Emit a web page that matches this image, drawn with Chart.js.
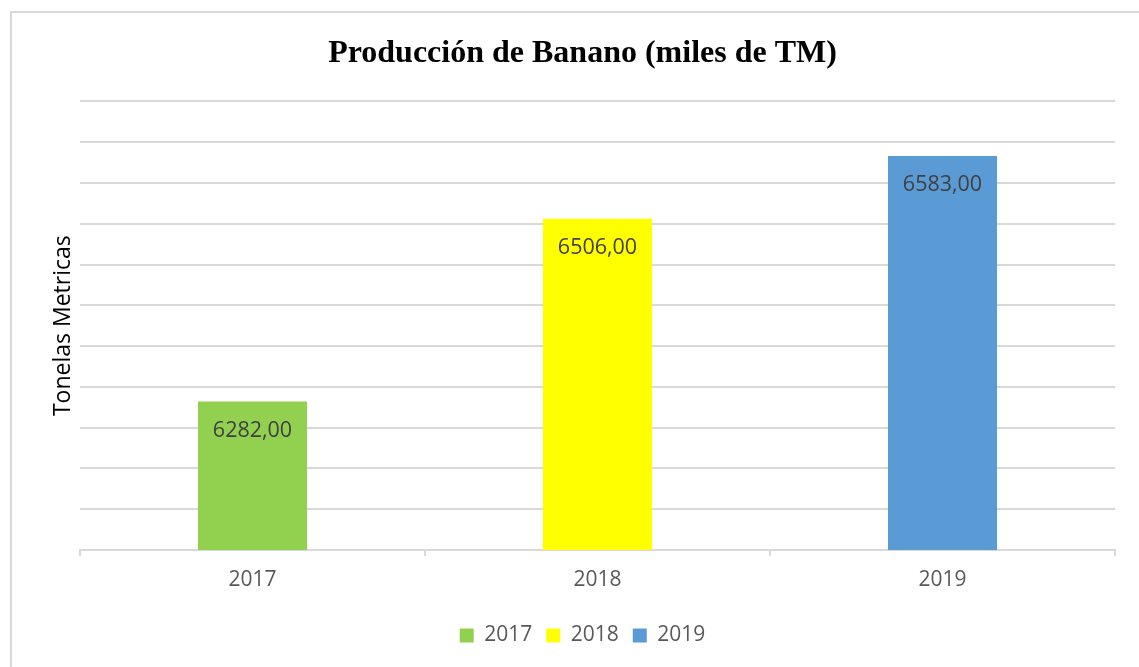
<!DOCTYPE html>
<html>
<head>
<meta charset="utf-8">
<script src="https://cdn.jsdelivr.net/npm/chart.js@4/dist/chart.umd.min.js"></script>
<style>
    body { margin: 0; background: #fff; }
    #marco { position: absolute; left: 10px; top: 11px; width: 1200px; height: 700px; border-left: 2px solid #d9d9d9; border-top: 2px solid #d9d9d9; }
    #contenedor { position: absolute; left: 0; top: 0; width: 1139px; height: 667px; }
</style>
</head>
<body>
<div id="marco"></div>
<div id="contenedor"><canvas id="bananoChart"></canvas></div>
<script>
const anos = ['2017', '2018', '2019'];
const produccion = [6282, 6506, 6583];
const coloresAnos = ['#92d050', '#ffff00', '#5b9bd5'];
const ejeMin = 6100;
const ejeMax = 6650;
const ejePaso = 50;

function formatoValor(v) {
    return v.toFixed(2).replace('.', ',');
}

// etiquetas de datos dentro de la barra, arriba
const etiquetasDatos = {
    id: 'etiquetasDatos',
    afterDatasetsDraw(chart) {
        const ctx = chart.ctx;
        const meta = chart.getDatasetMeta(0);
        ctx.save();
        ctx.font = '21.5px "Open Sans"';
        ctx.fillStyle = '#404040';
        ctx.textAlign = 'center';
        ctx.textBaseline = 'middle';
        meta.data.forEach((barra, i) => {
            ctx.fillText(formatoValor(produccion[i]), barra.x, barra.y + 29);
        });
        ctx.restore();
    }
};

const ctx = document.getElementById('bananoChart').getContext('2d');
let bananoChart = new Chart(ctx, {
    type: 'bar',
    data: {
        labels: anos,
        datasets: [{
            label: 'Producción',
            data: produccion,
            backgroundColor: coloresAnos,
            borderWidth: 0,
            categoryPercentage: 1,
            barPercentage: 0.316
        }]
    },
    options: {
        responsive: true,
        maintainAspectRatio: false,
        animation: false,
        layout: { padding: { left: 50, right: 24, top: 0, bottom: 11 } },
        plugins: {
            title: {
                display: true,
                text: 'Producción de Banano (miles de TM)',
                color: '#000',
                font: { family: '"Liberation Serif"', size: 32, weight: 'bold' },
                padding: { top: 35, bottom: 28 }
            },
            legend: {
                position: 'bottom',
                onClick: null,
                labels: {
                    boxWidth: 14,
                    boxHeight: 14,
                    padding: 14,
                    color: '#595959',
                    font: { family: '"Open Sans"', size: 21 },
                    generateLabels: function () {
                        return anos.map((a, i) => ({
                            text: a,
                            fillStyle: coloresAnos[i],
                            strokeStyle: coloresAnos[i],
                            lineWidth: 0,
                            fontColor: '#595959',
                            index: i
                        }));
                    }
                }
            },
            tooltip: { enabled: false }
        },
        scales: {
            x: {
                grid: {
                    drawOnChartArea: false,
                    drawTicks: true,
                    tickLength: 6,
                    color: '#d9d9d9',
                    lineWidth: 2
                },
                border: { display: true, color: '#d9d9d9', width: 2 },
                ticks: {
                    color: '#595959',
                    padding: 11,
                    font: { family: '"Open Sans"', size: 21 }
                },
                afterFit: function (scale) { scale.height = 61; }
            },
            y: {
                min: ejeMin,
                max: ejeMax,
                ticks: { display: false, stepSize: ejePaso },
                grid: { color: '#d9d9d9', lineWidth: 2, drawTicks: false },
                border: { display: false },
                title: {
                    display: true,
                    text: 'Tonelas Metricas',
                    color: '#000',
                    font: { family: '"Open Sans"', size: 23 },
                    padding: 0
                },
                afterFit: function (scale) { scale.width = 30; }
            }
        }
    },
    plugins: [etiquetasDatos]
});
</script>
</body>
</html>
